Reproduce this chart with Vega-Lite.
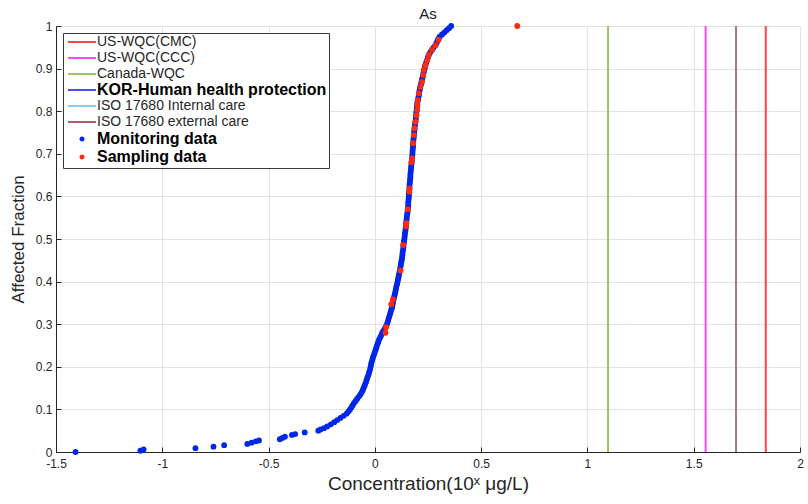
{
  "$schema": "https://vega.github.io/schema/vega-lite/v6.json",
  "width": 744,
  "height": 426,
  "autosize": {"type": "none"},
  "padding": {"left": 56, "top": 26, "right": 8, "bottom": 52},
  "background": "white",
  "title": {"text": "As", "fontSize": 15, "fontWeight": "normal", "font": "Liberation Sans", "color": "#1a1a1a", "anchor": "middle", "frame": "group", "baseline": "bottom", "offset": -17},
  "config": {
    "view": {"stroke": null},
    "font": "Liberation Sans",
    "axis": {"domainColor": "#262626", "tickColor": "#262626", "labelColor": "#262626", "titleColor": "#262626", "gridColor": "#e3e3e3", "labelFont": "Liberation Sans", "titleFont": "Liberation Sans", "labelFontSize": 12, "titleFontSize": 17, "titleFontWeight": "normal", "tickSize": -5, "domainWidth": 1, "labelFlush": false, "labelOverlap": false},
    "legend": {"orient": "top-left", "offset": 7, "padding": 2, "fillColor": "white", "strokeColor": "#3a3a3a", "symbolSize": 100, "symbolOffset": 10, "labelOffset": 8, "rowPadding": 0, "labelFont": "Liberation Sans", "labelFontSize": 14, "labelColor": "#262626", "labelLimit": 400}
  },
  "datasets": {
    "lines": [
      {"name": "KOR-Human health protection", "x": 1.699},
      {"name": "ISO 17680 Internal care", "x": 1.699},
      {"name": "ISO 17680 external care", "x": 1.699},
      {"name": "US-WQC(CMC)", "x": 1.839},
      {"name": "US-WQC(CCC)", "x": 1.556},
      {"name": "Canada-WQC", "x": 1.097}
    ],
    "monitoring": [
      {"x": -1.408, "y": 0.0}, {"x": -1.103, "y": 0.003}, {"x": -1.088, "y": 0.006}, {"x": -0.844, "y": 0.009}, {"x": -0.759, "y": 0.0125}, {"x": -0.709, "y": 0.016}, {"x": -0.600, "y": 0.019}, {"x": -0.580, "y": 0.022}, {"x": -0.560, "y": 0.025}, {"x": -0.545, "y": 0.027}, {"x": -0.447, "y": 0.030}, {"x": -0.435, "y": 0.033}, {"x": -0.423, "y": 0.036}, {"x": -0.390, "y": 0.040}, {"x": -0.375, "y": 0.042}, {"x": -0.330, "y": 0.046}, {"x": -0.266, "y": 0.050}, {"x": -0.255, "y": 0.053}, {"x": -0.239, "y": 0.056}, {"x": -0.224, "y": 0.060},
      {"x": -0.207, "y": 0.065}, {"x": -0.191, "y": 0.070}, {"x": -0.177, "y": 0.075}, {"x": -0.162, "y": 0.080}, {"x": -0.147, "y": 0.085}, {"x": -0.133, "y": 0.090}, {"x": -0.124, "y": 0.095}, {"x": -0.117, "y": 0.100}, {"x": -0.110, "y": 0.105}, {"x": -0.104, "y": 0.110}, {"x": -0.098, "y": 0.115}, {"x": -0.090, "y": 0.120}, {"x": -0.083, "y": 0.125}, {"x": -0.075, "y": 0.130}, {"x": -0.068, "y": 0.135}, {"x": -0.062, "y": 0.140}, {"x": -0.057, "y": 0.145}, {"x": -0.053, "y": 0.150}, {"x": -0.049, "y": 0.155}, {"x": -0.045, "y": 0.160}, {"x": -0.041, "y": 0.165}, {"x": -0.038, "y": 0.170}, {"x": -0.035, "y": 0.175}, {"x": -0.031, "y": 0.180}, {"x": -0.028, "y": 0.185}, {"x": -0.025, "y": 0.190}, {"x": -0.022, "y": 0.195}, {"x": -0.020, "y": 0.200}, {"x": -0.018, "y": 0.205}, {"x": -0.016, "y": 0.210}, {"x": -0.013, "y": 0.215}, {"x": -0.010, "y": 0.220}, {"x": -0.007, "y": 0.225}, {"x": -0.003, "y": 0.230}, {"x": 0.000, "y": 0.235}, {"x": 0.004, "y": 0.240}, {"x": 0.007, "y": 0.245}, {"x": 0.010, "y": 0.250}, {"x": 0.014, "y": 0.255}, {"x": 0.017, "y": 0.260}, {"x": 0.021, "y": 0.265}, {"x": 0.026, "y": 0.270}, {"x": 0.031, "y": 0.275}, {"x": 0.035, "y": 0.280}, {"x": 0.041, "y": 0.285}, {"x": 0.047, "y": 0.290}, {"x": 0.052, "y": 0.295}, {"x": 0.057, "y": 0.300}, {"x": 0.060, "y": 0.305}, {"x": 0.063, "y": 0.310}, {"x": 0.066, "y": 0.315}, {"x": 0.069, "y": 0.320}, {"x": 0.072, "y": 0.325}, {"x": 0.075, "y": 0.330}, {"x": 0.078, "y": 0.335}, {"x": 0.081, "y": 0.340}, {"x": 0.083, "y": 0.345}, {"x": 0.085, "y": 0.350}, {"x": 0.087, "y": 0.355}, {"x": 0.089, "y": 0.360}, {"x": 0.091, "y": 0.365}, {"x": 0.094, "y": 0.370}, {"x": 0.096, "y": 0.375}, {"x": 0.098, "y": 0.380}, {"x": 0.100, "y": 0.385}, {"x": 0.102, "y": 0.390}, {"x": 0.105, "y": 0.395}, {"x": 0.107, "y": 0.400}, {"x": 0.109, "y": 0.405}, {"x": 0.111, "y": 0.410}, {"x": 0.113, "y": 0.415}, {"x": 0.115, "y": 0.420}, {"x": 0.117, "y": 0.425}, {"x": 0.119, "y": 0.430}, {"x": 0.121, "y": 0.435}, {"x": 0.122, "y": 0.440}, {"x": 0.124, "y": 0.445}, {"x": 0.126, "y": 0.450}, {"x": 0.128, "y": 0.455}, {"x": 0.129, "y": 0.460}, {"x": 0.130, "y": 0.465}, {"x": 0.131, "y": 0.470}, {"x": 0.133, "y": 0.475}, {"x": 0.134, "y": 0.480}, {"x": 0.135, "y": 0.485}, {"x": 0.136, "y": 0.490}, {"x": 0.137, "y": 0.495}, {"x": 0.139, "y": 0.500}, {"x": 0.140, "y": 0.505}, {"x": 0.141, "y": 0.510}, {"x": 0.142, "y": 0.515}, {"x": 0.144, "y": 0.520}, {"x": 0.145, "y": 0.525}, {"x": 0.146, "y": 0.530}, {"x": 0.147, "y": 0.535}, {"x": 0.148, "y": 0.540}, {"x": 0.149, "y": 0.545}, {"x": 0.150, "y": 0.550}, {"x": 0.151, "y": 0.555}, {"x": 0.153, "y": 0.560}, {"x": 0.154, "y": 0.565}, {"x": 0.155, "y": 0.570}, {"x": 0.156, "y": 0.575}, {"x": 0.157, "y": 0.580}, {"x": 0.157, "y": 0.585}, {"x": 0.158, "y": 0.590}, {"x": 0.159, "y": 0.595}, {"x": 0.160, "y": 0.600}, {"x": 0.160, "y": 0.605}, {"x": 0.161, "y": 0.610}, {"x": 0.162, "y": 0.615}, {"x": 0.163, "y": 0.620}, {"x": 0.163, "y": 0.625}, {"x": 0.164, "y": 0.630}, {"x": 0.165, "y": 0.635}, {"x": 0.166, "y": 0.640}, {"x": 0.167, "y": 0.645}, {"x": 0.167, "y": 0.650}, {"x": 0.168, "y": 0.655}, {"x": 0.169, "y": 0.660}, {"x": 0.170, "y": 0.665}, {"x": 0.171, "y": 0.670}, {"x": 0.172, "y": 0.675}, {"x": 0.173, "y": 0.680}, {"x": 0.174, "y": 0.685}, {"x": 0.175, "y": 0.690}, {"x": 0.176, "y": 0.695}, {"x": 0.177, "y": 0.700}, {"x": 0.177, "y": 0.705}, {"x": 0.178, "y": 0.710}, {"x": 0.179, "y": 0.715}, {"x": 0.180, "y": 0.720}, {"x": 0.180, "y": 0.725}, {"x": 0.181, "y": 0.730}, {"x": 0.182, "y": 0.735}, {"x": 0.183, "y": 0.740}, {"x": 0.184, "y": 0.745}, {"x": 0.185, "y": 0.750}, {"x": 0.186, "y": 0.755}, {"x": 0.187, "y": 0.760}, {"x": 0.188, "y": 0.765}, {"x": 0.189, "y": 0.770}, {"x": 0.191, "y": 0.775}, {"x": 0.192, "y": 0.780}, {"x": 0.193, "y": 0.785}, {"x": 0.194, "y": 0.790}, {"x": 0.195, "y": 0.795}, {"x": 0.196, "y": 0.800}, {"x": 0.197, "y": 0.805}, {"x": 0.198, "y": 0.810}, {"x": 0.199, "y": 0.815}, {"x": 0.200, "y": 0.820}, {"x": 0.202, "y": 0.825}, {"x": 0.204, "y": 0.830}, {"x": 0.206, "y": 0.835}, {"x": 0.208, "y": 0.840}, {"x": 0.209, "y": 0.845}, {"x": 0.211, "y": 0.850}, {"x": 0.213, "y": 0.855}, {"x": 0.215, "y": 0.860}, {"x": 0.218, "y": 0.865}, {"x": 0.220, "y": 0.870}, {"x": 0.222, "y": 0.875}, {"x": 0.225, "y": 0.880}, {"x": 0.227, "y": 0.885}, {"x": 0.229, "y": 0.890}, {"x": 0.232, "y": 0.895}, {"x": 0.234, "y": 0.900}, {"x": 0.236, "y": 0.905}, {"x": 0.239, "y": 0.910}, {"x": 0.242, "y": 0.915}, {"x": 0.246, "y": 0.920}, {"x": 0.249, "y": 0.925}, {"x": 0.252, "y": 0.930}, {"x": 0.257, "y": 0.935}, {"x": 0.263, "y": 0.940}, {"x": 0.270, "y": 0.945}, {"x": 0.277, "y": 0.950}, {"x": 0.285, "y": 0.955}, {"x": 0.290, "y": 0.960}, {"x": 0.294, "y": 0.965}, {"x": 0.299, "y": 0.970}, {"x": 0.305, "y": 0.975}, {"x": 0.316, "y": 0.980}, {"x": 0.327, "y": 0.985}, {"x": 0.338, "y": 0.990}, {"x": 0.349, "y": 0.995}, {"x": 0.359, "y": 1.0}
    ],
    "sampling": [
      {"x": 0.050, "y": 0.280}, {"x": 0.053, "y": 0.293}, {"x": 0.077, "y": 0.347}, {"x": 0.085, "y": 0.358}, {"x": 0.121, "y": 0.426}, {"x": 0.133, "y": 0.486}, {"x": 0.147, "y": 0.530}, {"x": 0.148, "y": 0.537}, {"x": 0.155, "y": 0.570}, {"x": 0.162, "y": 0.611}, {"x": 0.163, "y": 0.619}, {"x": 0.172, "y": 0.680}, {"x": 0.175, "y": 0.689}, {"x": 0.180, "y": 0.725}, {"x": 0.183, "y": 0.744}, {"x": 0.186, "y": 0.760}, {"x": 0.191, "y": 0.775}, {"x": 0.196, "y": 0.790}, {"x": 0.199, "y": 0.803}, {"x": 0.200, "y": 0.815}, {"x": 0.202, "y": 0.826}, {"x": 0.207, "y": 0.842}, {"x": 0.214, "y": 0.857}, {"x": 0.222, "y": 0.869}, {"x": 0.227, "y": 0.885}, {"x": 0.230, "y": 0.897}, {"x": 0.238, "y": 0.908}, {"x": 0.246, "y": 0.920}, {"x": 0.254, "y": 0.932}, {"x": 0.269, "y": 0.944}, {"x": 0.285, "y": 0.955}, {"x": 0.300, "y": 0.968}, {"x": 0.670, "y": 1.0}
    ]
  },
  "layer": [
    {
      "data": {"name": "lines"},
      "mark": {"type": "rule", "strokeWidth": 2},
      "encoding": {
        "x": {"field": "x", "type": "quantitative", "scale": {"domain": [-1.5, 2], "nice": false, "zero": false},
          "axis": {"values": [-1.5, -1, -0.5, 0, 0.5, 1, 1.5, 2], "labelExpr": "'' + datum.value", "grid": true, "title": "Concentration(10ˣ μg/L)", "labelPadding": 11, "titlePadding": 5, "titleFontSize": 19}},
        "color": {"field": "name", "type": "nominal",
          "scale": {"domain": ["US-WQC(CMC)", "US-WQC(CCC)", "Canada-WQC", "KOR-Human health protection", "ISO 17680 Internal care", "ISO 17680 external care", "Monitoring data", "Sampling data"],
            "range": ["#ff4545", "#ff45ff", "#9cc46c", "#4a4aff", "#84d0f2", "#b45a6e", "#0026e6", "#ff2a0a"]},
          "legend": {"title": null,
            "symbolType": {"expr": "datum.value === 'Monitoring data' || datum.value === 'Sampling data' ? 'M0,-1.68M0,1.68M-0.5,0A0.5,0.5 0 1,1 0.5,0A0.5,0.5 0 1,1 -0.5,0Z' : 'M0,-0.73M0,0.73M-2.8,0H2.8'"},
            "symbolStrokeWidth": {"expr": "datum.value === 'Monitoring data' || datum.value === 'Sampling data' ? 0 : 2"},
            "labelFontWeight": {"expr": "datum.label === 'KOR-Human health protection' || datum.label === 'Monitoring data' || datum.label === 'Sampling data' ? 'bold' : 'normal'"},
            "labelFontSize": {"expr": "datum.label === 'KOR-Human health protection' || datum.label === 'Monitoring data' || datum.label === 'Sampling data' ? 16 : 14"},
            "labelColor": {"expr": "datum.label === 'KOR-Human health protection' || datum.label === 'Monitoring data' || datum.label === 'Sampling data' ? '#000000' : '#262626'"}
          }},
        "opacity": {"condition": {"test": "datum.name === 'ISO 17680 external care'", "value": 0.75}, "value": 1}
      }
    },
    {
      "data": {"name": "monitoring"},
      "mark": {"type": "circle", "size": 34, "opacity": 1},
      "encoding": {
        "x": {"field": "x", "type": "quantitative"},
        "y": {"field": "y", "type": "quantitative", "scale": {"domain": [0, 1], "nice": false},
          "axis": {"values": [0, 0.1, 0.2, 0.3, 0.4, 0.5, 0.6, 0.7, 0.8, 0.9, 1], "labelExpr": "'' + datum.value", "grid": true, "title": "Affected Fraction", "labelPadding": 9, "titlePadding": 8, "titleFontSize": 17}},
        "color": {"datum": "Monitoring data", "type": "nominal"}
      }
    },
    {
      "data": {"name": "sampling"},
      "mark": {"type": "circle", "size": 34, "opacity": 1},
      "encoding": {
        "x": {"field": "x", "type": "quantitative"},
        "y": {"field": "y", "type": "quantitative"},
        "color": {"datum": "Sampling data", "type": "nominal"}
      }
    }
  ]
}
